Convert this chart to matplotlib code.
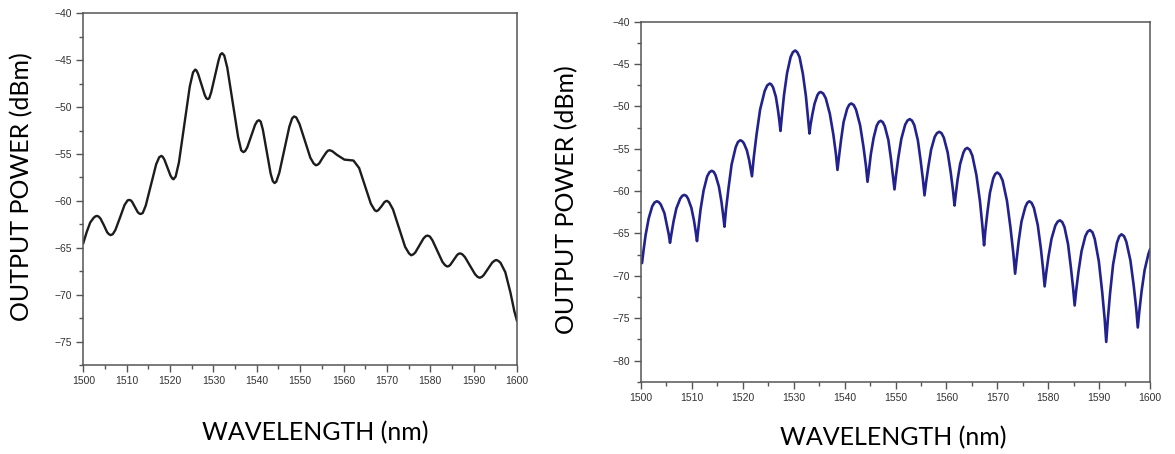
import matplotlib
matplotlib.use("Agg")
import matplotlib.pyplot as plt
from matplotlib.ticker import MultipleLocator

# left panel: measured spectrum (wavelength nm, power dBm)
left_wl = [1500.0, 1500.8, 1501.6, 1502.4, 1502.8, 1503.2, 1503.6, 1503.98, 1504.75,
           1505.5, 1505.9, 1506.3, 1506.8, 1507.4, 1508.45, 1509.5, 1510.2, 1510.6,
           1510.95, 1511.25, 1511.9, 1512.55, 1512.9, 1513.2, 1513.7, 1514.4,
           1515.6, 1516.8, 1517.5, 1518.0, 1518.3, 1518.7, 1519.4, 1520.1,
           1520.5, 1520.8, 1521.3, 1522.05, 1523.3, 1524.55, 1525.3, 1525.8,
           1526.1, 1526.5, 1527.25, 1528.0, 1528.35, 1528.7, 1529.05, 1529.5,
           1530.35, 1531.2, 1531.6, 1532.0, 1532.5, 1533.2, 1534.45, 1535.7,
           1536.4, 1536.9, 1537.3, 1537.8, 1538.7, 1539.6, 1540.1, 1540.5,
           1540.9, 1541.4, 1542.3, 1543.2, 1543.7, 1544.1, 1544.5, 1545.2,
           1546.35, 1547.5, 1548.15, 1548.6, 1549.1, 1549.85, 1551.1, 1552.35,
           1553.1, 1553.6, 1554.0, 1554.4, 1555.2, 1556.0, 1556.4, 1556.8,
           1557.4, 1558.5, 1560.2, 1561.2, 1562.3, 1563.6, 1564.95, 1566.3,
           1567.2, 1567.6, 1568.0, 1568.8, 1569.4, 1569.7, 1570.0, 1570.5,
           1571.4, 1572.8, 1574.2, 1575.1, 1575.6, 1576.1, 1576.55, 1577.5,
           1578.45, 1579.0, 1579.4, 1579.9, 1580.5, 1581.65, 1582.8, 1583.4,
           1583.9, 1584.3, 1584.65, 1585.4, 1586.15, 1586.5, 1586.9, 1587.4,
           1588.0, 1589.15, 1590.3, 1590.9, 1591.4, 1591.9, 1592.35, 1593.3,
           1594.25, 1594.75, 1595.2, 1595.7, 1596.2, 1597.3, 1598.5, 1599.4,
           1600.0]
left_pw = [-64.5, -63.3, -62.3, -61.8, -61.65, -61.6, -61.7, -61.9, -62.6,
           -63.35, -63.55, -63.65, -63.55, -63.1, -61.8, -60.45, -59.95, -59.9,
           -59.95, -60.1, -60.65, -61.2, -61.35, -61.4, -61.3, -60.5,
           -58.3, -56.1, -55.35, -55.2, -55.3, -55.6, -56.45, -57.3,
           -57.6, -57.7, -57.4, -55.9, -51.85, -47.8, -46.3, -46.0,
           -46.1, -46.5, -47.6, -48.7, -49.05, -49.15, -49.05, -48.4,
           -46.7, -45.0, -44.4, -44.25, -44.5, -45.8, -49.5, -53.2,
           -54.6, -54.8, -54.7, -54.3, -53.1, -51.9, -51.5, -51.4,
           -51.55, -52.4, -54.75, -57.1, -57.9, -58.1, -57.95, -57.0,
           -54.55, -52.1, -51.2, -51.0, -51.1, -51.8, -53.6, -55.4,
           -56.0, -56.2, -56.15, -56.0, -55.4, -54.85, -54.65, -54.6,
           -54.7, -55.1, -55.6, -55.65, -55.7, -56.5, -58.4, -60.3,
           -61.0, -61.1, -61.0, -60.55, -60.15, -60.05, -60.0, -60.15,
           -60.9, -62.9, -64.9, -65.6, -65.8, -65.7, -65.5, -64.75,
           -64.0, -63.75, -63.7, -63.8, -64.2, -65.35, -66.5, -66.85,
           -67.0, -66.95, -66.8, -66.3, -65.8, -65.65, -65.6, -65.7,
           -66.0, -66.9, -67.8, -68.1, -68.2, -68.1, -67.9, -67.25,
           -66.6, -66.4, -66.3, -66.4, -66.6, -67.6, -69.8, -71.8,
           -72.8]

# right panel: simulated spectrum, one lobe (dip -> peak -> before next dip) per row
right_wl = [1500.0,
            1500.2, 1500.5, 1500.9, 1501.5, 1502.2, 1502.65, 1503.1, 1503.5, 1503.9, 1504.6, 1505.05, 1505.45,
            1505.7, 1506.0, 1506.4, 1506.95, 1507.7, 1508.1, 1508.5, 1508.9, 1509.25, 1509.9, 1510.4, 1510.75,
            1511.0, 1511.3, 1511.7, 1512.3, 1513.0, 1513.45, 1513.9, 1514.3, 1514.65, 1515.3, 1515.8, 1516.15,
            1516.4, 1516.7, 1517.2, 1517.8, 1518.6, 1519.05, 1519.5, 1519.85, 1520.2, 1520.8, 1521.25, 1521.55,
            1521.8, 1522.15, 1522.7, 1523.4, 1524.3, 1524.8, 1525.3, 1525.6, 1525.95, 1526.5, 1526.9, 1527.2,
            1527.4, 1527.7, 1528.1, 1528.7, 1529.4, 1529.85, 1530.3, 1530.7, 1531.15, 1531.8, 1532.4, 1532.8,
            1533.1, 1533.3, 1533.65, 1534.1, 1534.65, 1534.95, 1535.3, 1535.8, 1536.3, 1537.1, 1537.8, 1538.3,
            1538.6, 1538.9, 1539.3, 1539.8, 1540.5, 1540.9, 1541.3, 1541.8, 1542.25, 1543.05, 1543.7, 1544.2,
            1544.5, 1544.8, 1545.15, 1545.7, 1546.3, 1546.7, 1547.1, 1547.5, 1547.9, 1548.6, 1549.1, 1549.5,
            1549.8, 1550.1, 1550.55, 1551.15, 1551.9, 1552.35, 1552.8, 1553.25, 1553.7, 1554.4, 1554.95, 1555.4,
            1555.7, 1556.0, 1556.45, 1557.0, 1557.7, 1558.15, 1558.6, 1559.05, 1559.5, 1560.25, 1560.85, 1561.3,
            1561.6, 1561.85, 1562.2, 1562.7, 1563.35, 1563.7, 1564.1, 1564.6, 1565.1, 1565.9, 1566.6, 1567.07,
            1567.4, 1567.65, 1568.05, 1568.55, 1569.2, 1569.6, 1570.0, 1570.5, 1571.05, 1571.9, 1572.6, 1573.15,
            1573.5, 1573.8, 1574.2, 1574.75, 1575.5, 1575.9, 1576.3, 1576.75, 1577.2, 1577.95, 1578.55, 1579.0,
            1579.3, 1579.6, 1580.05, 1580.65, 1581.4, 1581.85, 1582.3, 1582.75, 1583.2, 1583.9, 1584.45, 1584.9,
            1585.2, 1585.5, 1585.95, 1586.55, 1587.3, 1587.75, 1588.2, 1588.7, 1589.15, 1589.95, 1590.6, 1591.1,
            1591.4, 1591.7, 1592.15, 1592.75, 1593.5, 1593.95, 1594.4, 1594.9, 1595.35, 1596.15, 1596.8, 1597.3,
            1597.6, 1597.9, 1598.35, 1598.95, 1599.7, 1600.0]
right_pw = [-68.3,
            -68.5, -67.0, -65.2, -63.25, -61.8, -61.35, -61.2, -61.3, -61.6, -62.6, -63.9, -65.1,
            -66.1, -64.97, -63.56, -62.03, -60.9, -60.56, -60.45, -60.56, -60.9, -61.98, -63.45, -64.8,
            -65.9, -64.24, -62.17, -59.92, -58.26, -57.77, -57.6, -57.73, -58.13, -59.45, -61.23, -62.88,
            -64.2, -62.16, -59.61, -56.86, -54.82, -54.2, -54.0, -54.09, -54.34, -55.19, -56.34, -57.4,
            -58.25, -56.06, -53.32, -50.37, -48.18, -47.52, -47.3, -47.41, -47.75, -48.87, -50.38, -51.78,
            -52.9, -51.0, -48.63, -46.06, -44.16, -43.59, -43.4, -43.6, -44.18, -46.14, -48.79, -51.24,
            -53.2, -52.22, -51.0, -49.67, -48.69, -48.4, -48.3, -48.48, -49.04, -50.88, -53.36, -55.66,
            -57.5, -55.93, -53.97, -51.85, -50.28, -49.81, -49.65, -49.84, -50.39, -52.24, -54.74, -57.05,
            -58.9, -57.46, -55.66, -53.72, -52.28, -51.84, -51.7, -51.86, -52.35, -53.97, -56.15, -58.18,
            -59.8, -58.14, -56.07, -53.82, -52.16, -51.67, -51.5, -51.68, -52.22, -54.02, -56.45, -58.7,
            -60.5, -59.0, -57.13, -55.1, -53.6, -53.15, -53.0, -53.17, -53.7, -55.44, -57.79, -59.96,
            -61.7, -60.34, -58.64, -56.8, -55.44, -55.04, -54.9, -55.13, -55.82, -58.12, -61.23, -64.1,
            -66.4, -64.68, -62.53, -60.21, -58.49, -57.97, -57.8, -58.04, -58.76, -61.15, -64.37, -67.36,
            -69.75, -68.04, -65.9, -63.59, -61.88, -61.37, -61.2, -61.4, -62.0, -64.01, -66.73, -69.24,
            -71.25, -69.69, -67.74, -65.63, -64.07, -63.61, -63.45, -63.65, -64.25, -66.26, -68.98, -71.49,
            -73.5, -71.72, -69.5, -67.09, -65.31, -64.78, -64.6, -64.86, -65.66, -68.3, -71.86, -75.16,
            -77.8, -75.26, -72.09, -68.66, -66.12, -65.35, -65.1, -65.32, -65.98, -68.18, -71.15, -73.9,
            -76.1, -74.2, -71.8, -69.3, -67.4, -66.9]

W, H = 1175, 454
fig = plt.figure(figsize=(W / 100, H / 100), dpi=100)


def style_axes(ax, ylo, yticks):
    ax.set_xlim(1500, 1600)
    ax.set_ylim(ylo, -40)
    ax.xaxis.set_major_locator(MultipleLocator(10))
    ax.xaxis.set_minor_locator(MultipleLocator(5))
    ax.set_yticks(yticks)
    ax.yaxis.set_minor_locator(MultipleLocator(2.5))
    ax.tick_params(which="major", direction="out", length=5, width=1,
                   color="#555555", labelsize=7.5, labelcolor="#333333", pad=3)
    ax.tick_params(which="minor", direction="out", length=3, width=1,
                   color="#555555")
    for lab in ax.get_xticklabels() + ax.get_yticklabels():
        lab.set_fontfamily("Liberation Sans")
    for s in ax.spines.values():
        s.set_color("#555555")
        s.set_linewidth(1.1)


# left axes
ax1 = fig.add_axes([83.3 / W, 1 - 365 / H, (517 - 83.3) / W, (365 - 13.3) / H])
ax1.plot(left_wl, left_pw, color="#1c1c1c", linewidth=1.7)
style_axes(ax1, -77.5, [-40, -45, -50, -55, -60, -65, -70, -75])

# right axes
ax2 = fig.add_axes([641 / W, 1 - 381.7 / H, (1150 - 641) / W, (381.7 - 21.7) / H])
ax2.plot(right_wl, right_pw, color="#22228f", linewidth=1.9)
style_axes(ax2, -82.5, [-40, -45, -50, -55, -60, -65, -70, -75, -80])

lab_font = dict(family="Lato", fontsize=18, color="black")
fig.text(22 / W, 1 - 187 / H, "OUTPUT POWER (dBm)", rotation=90,
         ha="center", va="center", **lab_font)
fig.text(567 / W, 1 - 200 / H, "OUTPUT POWER (dBm)", rotation=90,
         ha="center", va="center", **lab_font)
fig.text(315 / W, 1 - 433 / H, "WAVELENGTH (nm)", ha="center", va="center",
         **lab_font)
fig.text(893 / W, 1 - 438 / H, "WAVELENGTH (nm)", ha="center", va="center",
         **lab_font)

fig.savefig("out.png", dpi=100, facecolor="white")
